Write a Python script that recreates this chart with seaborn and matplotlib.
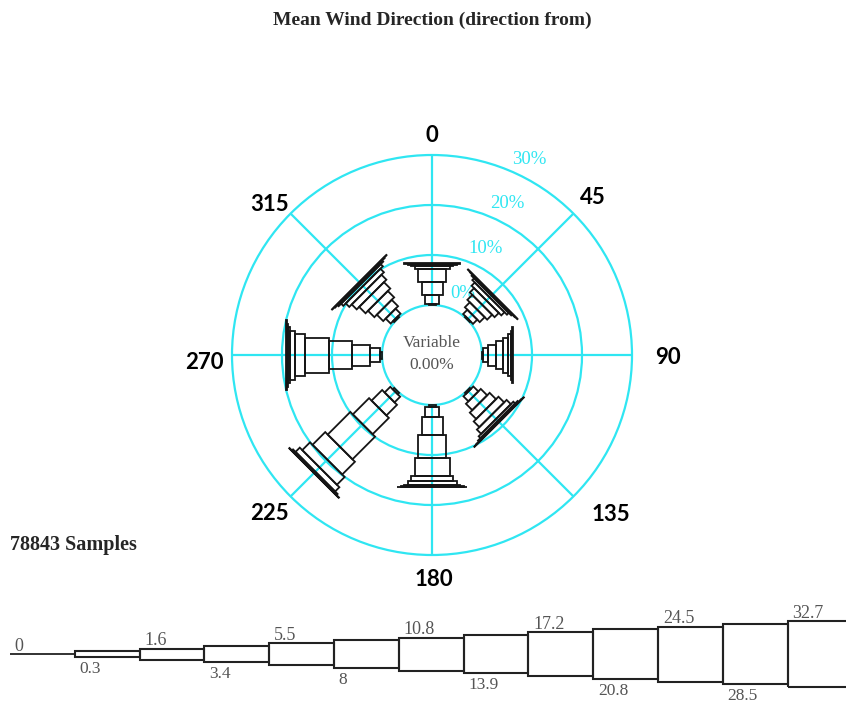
import numpy as np
import matplotlib
matplotlib.use("Agg")
import matplotlib.pyplot as plt
from matplotlib.patches import Polygon, Circle, Rectangle
import seaborn as sns

# ---- data -------------------------------------------------------------
directions = [0, 45, 90, 135, 180, 225, 270, 315]
dir_labels = ["0", "45", "90", "135", "180", "225", "270", "315"]

# speed class lower edges (legend), classes 0.3-1.6 ... 32.7+ are drawn in the petals
speed_edges = [0, 0.3, 1.6, 3.4, 5.5, 8, 10.8, 13.9, 17.2, 20.8, 24.5, 28.5, 32.7]

# frequency (%) per speed class (0.3-1.6, 1.6-3.4, ..., 32.7+) for each direction
freq_000 = [0.2, 1.8, 2.6, 2.6, 0.6, 0.3, 0.2, 0.1, 0.0, 0.0, 0.0, 0.0]
freq_045 = [0.2, 1.2, 1.4, 1.4, 1.2, 0.9, 0.5, 0.25, 0.1, 0.05, 0.0, 0.0]
freq_090 = [0.2, 1.0, 1.5, 1.5, 1.0, 0.5, 0.3, 0.1, 0.0, 0.0, 0.0, 0.0]
freq_135 = [0.3, 1.4, 1.8, 1.8, 1.6, 1.2, 0.5, 0.25, 0.1, 0.05, 0.0, 0.0]
freq_180 = [0.3, 2.0, 3.6, 4.6, 3.6, 1.0, 0.8, 0.3, 0.15, 0.05, 0.0, 0.0]
freq_225 = [0.4, 1.6, 3.0, 4.6, 6.4, 3.6, 2.2, 1.2, 0.3, 0.1, 0.0, 0.0]
freq_270 = [0.4, 2.0, 3.6, 4.6, 4.8, 2.0, 1.0, 0.5, 0.2, 0.1, 0.0, 0.0]
freq_315 = [0.3, 1.4, 1.8, 1.8, 1.8, 1.4, 1.0, 0.6, 0.3, 0.15, 0.05, 0.0]

calm_pct = 0.00
n_samples = 78843
ring_pcts = [0, 10, 20, 30]

# ---- style ------------------------------------------------------------
sns.set_theme(style="white")
plt.rcParams["font.family"] = ["Liberation Serif", "DejaVu Serif"]

CYAN = "#2fe6f2"
GREY = "#555555"
INK = "#151515"
HOLE = 10.0          # radius of the calm circle, in % units
PETAL_W = 0.7        # half-width of a petal segment per speed class
LEG_W = 2.75         # half-height of a legend segment per speed class

fig = plt.figure(figsize=(8.46, 7.04), dpi=100)

# ---- rose -------------------------------------------------------------
W, H = 846, 704
cx, cy, half = 432, 355, 250
ax = fig.add_axes([(cx - half) / W, (H - cy - half) / H, 2 * half / W, 2 * half / H])
ax.set_xlim(-50, 50)
ax.set_ylim(-50, 50)
ax.set_aspect("equal")
ax.axis("off")

outer = HOLE + max(ring_pcts)
for p in ring_pcts:
    ax.add_patch(Circle((0, 0), HOLE + p, fill=False, ec=CYAN, lw=1.6, zorder=1))
for d in directions:
    th = np.deg2rad(d)
    ax.plot([HOLE * np.sin(th), outer * np.sin(th)],
            [HOLE * np.cos(th), outer * np.cos(th)],
            color=CYAN, lw=1.6, zorder=1, solid_capstyle="butt")

lab_th = np.deg2rad(26.5)
for p in ring_pcts:
    r = HOLE + p + 3.8
    ax.text(r * np.sin(lab_th), r * np.cos(lab_th), f"{p}%", color=CYAN,
            ha="center", va="center", fontsize=13.5)

freqs = [freq_000, freq_045, freq_090, freq_135, freq_180, freq_225, freq_270, freq_315]
for d, fr in zip(directions, freqs):
    th = np.deg2rad(d)
    u = np.array([np.sin(th), np.cos(th)])
    v = np.array([np.cos(th), -np.sin(th)])
    r0 = HOLE
    for k, f in enumerate(fr, start=1):
        if f <= 0:
            continue
        r1 = r0 + f
        hw = PETAL_W * k
        pts = [r0 * u + hw * v, r1 * u + hw * v, r1 * u - hw * v, r0 * u - hw * v]
        ax.add_patch(Polygon(pts, closed=True, fill=False, ec=INK, lw=1.3,
                             joinstyle="miter", zorder=3))
        r0 = r1

# compass labels sit on a circle, nudged sideways where the text is wide
nudge_x = [0, 0.3, 2.2, 4.0, 0.4, -0.6, -0.6, -0.6]
nudge_y = [-1.0, -0.4, -0.4, 0, 0, 0.2, -1.4, -1.8]
for d, lab, nx, ny in zip(directions, dir_labels, nudge_x, nudge_y):
    th = np.deg2rad(d)
    r = 45
    ax.text(r * np.sin(th) + nx, r * np.cos(th) + ny, lab, ha="center", va="center",
            fontsize=16, fontweight="bold", family=["Lato", "DejaVu Sans"], color="black")

ax.text(0, 2.4, "Variable", ha="center", va="center", fontsize=12.5, color=GREY)
ax.text(0, -2.0, f"{calm_pct:.2f}%", ha="center", va="center", fontsize=12.5, color=GREY)

# ---- titles -----------------------------------------------------------
fig.text(cx / W, 1 - 20 / H, "Mean Wind Direction (direction from)", ha="center",
         va="center", fontsize=14, fontweight="bold")
fig.text(10 / W, 1 - 545 / H, f"{n_samples} Samples", ha="left", va="center",
         fontsize=14.5, fontweight="bold")

# ---- speed legend -----------------------------------------------------
step = 64.8
lx0 = 10
lg = fig.add_axes([lx0 / W, 0, 13 * step / W, 100 / H])
lg.set_xlim(0, 13)
lg.set_ylim(-50, 50)
lg.axis("off")

lg.plot([0, 1], [0, 0], color="#222222", lw=1.3, solid_capstyle="butt")
for k in range(1, len(speed_edges)):
    hw = LEG_W * k
    lg.add_patch(Rectangle((k, -hw), 1, 2 * hw, fill=False, ec="#222222", lw=1.5,
                           clip_on=False))

for i, e in enumerate(speed_edges):
    hw = LEG_W * i
    if i % 2 == 0:
        lg.annotate(f"{e:g}", (i, hw), xytext=(3.5, -0.5), textcoords="offset points",
                    ha="left", va="bottom", fontsize=13, color=GREY)
    else:
        lg.annotate(f"{e:g}", (i, -hw), xytext=(3.5, -3.0), textcoords="offset points",
                    ha="left", va="top", fontsize=12.5, color=GREY)

fig.savefig("out.png", dpi=100, facecolor="white")
